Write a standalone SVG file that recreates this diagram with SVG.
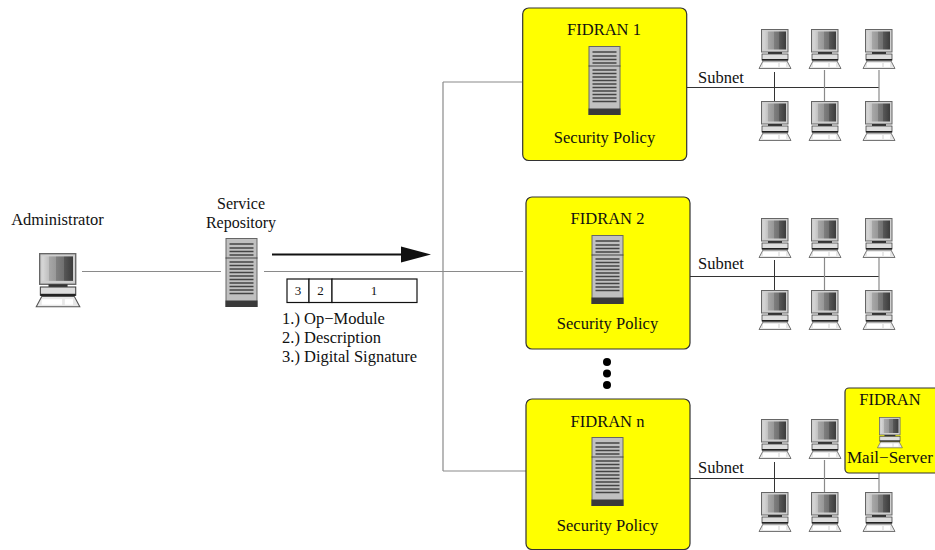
<svg xmlns="http://www.w3.org/2000/svg" xmlns:xlink="http://www.w3.org/1999/xlink" width="935" height="550" viewBox="0 0 935 550">
<style>
text{font-family:"Liberation Serif","Times New Roman",serif;font-size:16.5px;fill:#111}
.m{text-anchor:middle}
.box{fill:#ffff00;stroke:#333;stroke-width:1.2}
.g{fill:none;stroke:#8a8a8a;stroke-width:1.2}
.d{fill:none;stroke:#333;stroke-width:1}
.pk{fill:#fff;stroke:#111;stroke-width:1.2}
</style>
<defs>
<linearGradient id="scr" x1="0" x2="1" y1="0" y2="0">
<stop offset="0" stop-color="#d8d8d8"/><stop offset="0.2" stop-color="#c0c0c0"/><stop offset="0.2" stop-color="#a8a8a8"/><stop offset="0.45" stop-color="#989898"/><stop offset="0.45" stop-color="#808080"/><stop offset="0.7" stop-color="#707070"/><stop offset="0.7" stop-color="#585858"/><stop offset="1" stop-color="#3c3c3c"/>
</linearGradient>
<g id="pc">
<rect x="0.5" y="0.5" width="26.500" height="22.500" fill="#cfcfcf" stroke="#666"/>
<rect x="2.500" y="2.500" width="22.500" height="18" fill="url(#scr)"/>
<rect x="7" y="23" width="14" height="2" fill="#333"/>
<rect x="1" y="25" width="26" height="6" fill="#ddd" stroke="#444" stroke-width="0.8"/>
<rect x="1" y="30" width="26" height="1.600" fill="#222"/>
<path d="M2 32H26L30 39.500H-2Z" fill="#e8e8e8" stroke="#555" stroke-width="0.8"/>
<rect x="2" y="34" width="15" height="4" fill="#fff"/>
<rect x="19" y="34" width="6" height="4" fill="#fff"/>
</g>
<g id="srv">
<rect x="0.5" y="0.5" width="31" height="68" fill="#c0c0c0" stroke="#666"/>
<path d="M0 20H32" stroke="#444" fill="none"/>
<path d="M4 6H28M4 10H28M4 13.500H28M4 17H28M4 24H28M4 27.500H28M4 31H28M4 34.500H28M4 38H28M4 41.500H28M4 45H28M4 48.500H28M4 52H28M4 55.500H28" stroke="#444" stroke-width="1.400" fill="none"/>
<rect x="0" y="62.500" width="32" height="6.500" fill="#3a3a3a"/>
</g>
</defs>

<g id="connectors">
<path class="g" d="M82 271.500H221M264 271.500H523M443 82V471M443 82H522M443 471H526"/>
<path class="d" d="M687 87.500H879M690 276.500H879M690 478.500H879"/>
<path class="d" d="M774.500 72V101M774.500 260V290M774.500 462V492"/>
<path class="g" d="M824.500 70V101M879 70V101M824.500 258V290M879 258V290M824.500 460V492M879 473V492"/>
<path d="M272 254.500H403" stroke="#111" stroke-width="2" fill="none"/>
<path d="M401 246.500L431 254.500L401 262.500Z" fill="#111"/>
</g>

<g id="administrator">
<text x="57.500" y="225" class="m">Administrator</text>
<use xlink:href="#pc" href="#pc" transform="translate(39 253) scale(1.36)"/>
</g>
<g id="repository">
<text x="241" y="209" class="m" style="font-size:16px">Service</text>
<text x="241" y="227.500" class="m" style="font-size:16px">Repository</text>
<use xlink:href="#srv" href="#srv" x="225.500" y="238"/>
</g>
<g id="packet">
<rect class="pk" x="287" y="279" width="22" height="23.500"/>
<rect class="pk" x="309" y="279" width="23" height="23.500"/>
<rect class="pk" x="332" y="279" width="85" height="23.500"/>
<text x="298" y="295" class="m" style="font-size:13px">3</text>
<text x="320.500" y="295" class="m" style="font-size:13px">2</text>
<text x="374" y="295" class="m" style="font-size:13px">1</text>
<text x="282" y="324">1.) Op−Module</text>
<text x="282" y="343">2.) Description</text>
<text x="282" y="362">3.) Digital Signature</text>
</g>

<g id="fidran1">
<rect class="box" x="522.700" y="8" width="164" height="152.500" rx="6"/>
<text x="604" y="35" class="m">FIDRAN 1</text>
<use xlink:href="#srv" href="#srv" x="588.500" y="46"/>
<text x="604.500" y="143" class="m">Security Policy</text>
</g>
<g id="fidran2">
<rect class="box" x="526" y="197" width="164" height="152" rx="6"/>
<text x="607.500" y="224" class="m">FIDRAN 2</text>
<use xlink:href="#srv" href="#srv" x="591.500" y="235"/>
<text x="607.500" y="329" class="m">Security Policy</text>
</g>
<g id="fidrann">
<rect class="box" x="526" y="399" width="164" height="150.500" rx="6"/>
<text x="607.500" y="427" class="m">FIDRAN n</text>
<use xlink:href="#srv" href="#srv" x="591.500" y="437"/>
<text x="607.500" y="531" class="m">Security Policy</text>
</g>
<g id="dots">
<circle cx="607" cy="362" r="4" fill="#000"/><circle cx="607" cy="373.500" r="4" fill="#000"/><circle cx="607" cy="385" r="4" fill="#000"/>
</g>

<g id="subnet1">
<text x="698" y="83">Subnet</text>
<use xlink:href="#pc" href="#pc" x="761" y="29"/><use xlink:href="#pc" href="#pc" x="811" y="29"/><use xlink:href="#pc" href="#pc" x="865" y="29"/>
<use xlink:href="#pc" href="#pc" x="761" y="101"/><use xlink:href="#pc" href="#pc" x="811" y="101"/><use xlink:href="#pc" href="#pc" x="865" y="101"/>
</g>
<g id="subnet2">
<text x="698" y="269">Subnet</text>
<use xlink:href="#pc" href="#pc" x="761" y="218"/><use xlink:href="#pc" href="#pc" x="811" y="218"/><use xlink:href="#pc" href="#pc" x="865" y="218"/>
<use xlink:href="#pc" href="#pc" x="761" y="290"/><use xlink:href="#pc" href="#pc" x="811" y="290"/><use xlink:href="#pc" href="#pc" x="865" y="290"/>
</g>
<g id="subnetn">
<text x="698" y="473">Subnet</text>
<use xlink:href="#pc" href="#pc" x="761" y="419"/><use xlink:href="#pc" href="#pc" x="811" y="419"/>
<use xlink:href="#pc" href="#pc" x="761" y="492"/><use xlink:href="#pc" href="#pc" x="811" y="492"/><use xlink:href="#pc" href="#pc" x="865" y="492"/>
</g>
<g id="mailserver">
<rect class="box" x="845" y="388" width="95" height="85" rx="4"/>
<text x="890" y="405" class="m">FIDRAN</text>
<use xlink:href="#pc" href="#pc" transform="translate(879 417) scale(0.78)"/>
<text x="890" y="463" class="m" style="font-size:17px">Mail−Server</text>
</g>
</svg>
